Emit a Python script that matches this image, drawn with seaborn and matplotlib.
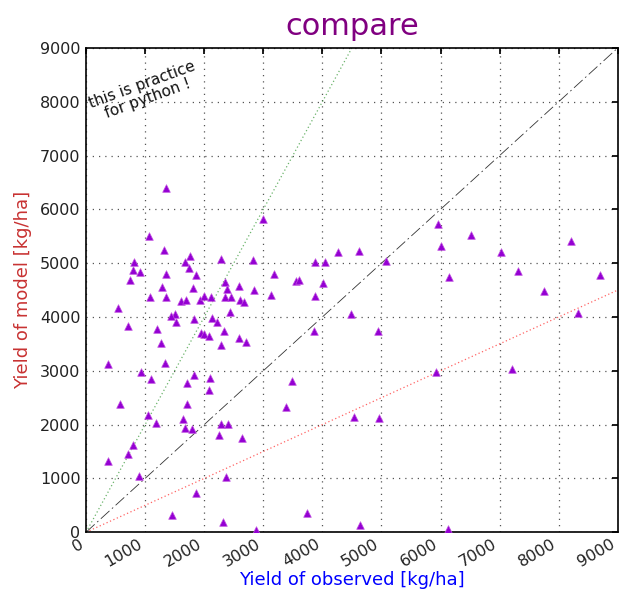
import matplotlib
matplotlib.use("Agg")
import matplotlib.pyplot as plt
import numpy as np
import pandas as pd
import seaborn as sns

# observed vs. modelled yields [kg/ha]
observed = [
    1350, 3000, 1060, 1315, 815, 1760, 1675, 2277, 2822, 798, 905, 1742, 3176,
    1349, 1860, 742, 2356, 2592, 1282, 2389, 2838, 1810, 1085, 1360, 1613, 1692,
    1928, 2001, 2113, 2356, 2462, 3131, 2614, 2670, 545, 2440, 1512, 1433, 1529,
    1821, 2125, 2215, 714, 1209, 2333, 1939, 1995, 2074, 2585, 2709, 1270, 2282,
    4261, 4615, 3867, 4042, 5081, 3560, 3610, 4013, 3867, 4491, 3856, 4935,
    5958, 6509, 6009, 7020, 8207, 6144, 7307, 8702, 7757, 8325, 5919, 7217,
    4531, 4953, 4637, 6121,
    2096, 2080, 3486, 3390, 2277, 2411, 2249, 2636, 2373, 3744, 2322, 2872,
    376, 1338, 933, 1096, 1827, 1715, 568, 1715, 1051, 1186, 1641, 1669, 1788,
    793, 708, 371, 894, 1867, 1462,
]
modelled = [
    6400, 5830, 5500, 5240, 5015, 5140, 5028, 5084, 5065, 4879, 4835, 4916, 4804,
    4804, 4785, 4686, 4641, 4579, 4561, 4517, 4505, 4530, 4380, 4380, 4305, 4318,
    4323, 4398, 4374, 4380, 4374, 4417, 4312, 4286, 4174, 4099, 4062, 4019, 3907,
    3963, 3981, 3907, 3826, 3770, 3733, 3701, 3676, 3639, 3613, 3538, 3508, 3477,
    5215, 5234, 5028, 5028, 5034, 4670, 4680, 4636, 4393, 4050, 3738, 3744,
    5720, 5527, 5314, 5215, 5415, 4741, 4847, 4785, 4492, 4069, 2972, 3041,
    2150, 2131, 131, 56,
    2873, 2649, 2817, 2323, 2013, 2006, 1808, 1757, 1034, 361, 187, 37,
    3134, 3153, 2972, 2854, 2922, 2766, 2374, 2374, 2187, 2032, 2107, 1938, 1920,
    1613, 1452, 1321, 1047, 729, 323,
]

# reference lines: 1:1, 2:1 and 1:2
ref_x = [0, 9000]
line_one = [0, 9000]
line_double_x = [0, 4500]
line_double_y = [0, 9000]
line_half = [0, 4500]

ticks = [0, 1000, 2000, 3000, 4000, 5000, 6000, 7000, 8000, 9000]

sns.set_theme(style="white")
plt.rcParams.update({
    "font.family": ["DejaVu Sans"],
    "xtick.direction": "in",
    "ytick.direction": "in",
    "xtick.top": True,
    "ytick.right": True,
    "xtick.major.size": 4,
    "ytick.major.size": 4,
    "xtick.major.pad": 3,
    "ytick.major.pad": 4,
    "xtick.color": "black",
    "ytick.color": "black",
    "axes.edgecolor": "black",
    "axes.linewidth": 1.2,
})

fig = plt.figure(figsize=(6.19, 5.92), dpi=100)
ax = fig.add_axes([0.139, 0.101, 0.859, 0.818])

df = pd.DataFrame({"observed": observed, "modelled": modelled})

sns.lineplot(x=line_double_x, y=line_double_y, ax=ax, color="#3a9a3a",
             linestyle=(0, (1, 2)), linewidth=0.9, alpha=0.75)
sns.lineplot(x=ref_x, y=line_one, ax=ax, color="black",
             linestyle=(0, (14, 4, 2, 4)), linewidth=0.6, alpha=0.8)
sns.lineplot(x=ref_x, y=line_half, ax=ax, color="#ff3030",
             linestyle=(0, (1, 2)), linewidth=0.9, alpha=0.75)

sns.scatterplot(data=df, x="observed", y="modelled", ax=ax, marker="^",
                s=30, color="#9400d3", edgecolor="#c050e0", linewidth=0.5,
                zorder=5)

ax.set_xlim(0, 9000)
ax.set_ylim(0, 9000)
ax.set_xticks(ticks)
ax.set_yticks(ticks)
ax.set_xticklabels([str(t) for t in ticks], rotation=30, ha="right",
                   fontsize=11.5, color="#222222")
ax.set_yticklabels([str(t) for t in ticks], fontsize=11.5, color="#222222")
ax.grid(True, linestyle=(0, (1, 4)), color="#555555", linewidth=0.9)

ax.set_xlabel("Yield of observed [kg/ha]", color="blue", fontsize=13,
              labelpad=1)
ax.set_ylabel("Yield of model [kg/ha]", color="#c83232", fontsize=13,
              labelpad=6)
ax.set_title("compare", color="purple", fontsize=22, pad=9)

ax.text(1000, 8190, "this is practice\nfor python !", rotation=20,
        ha="center", va="center", ma="center", fontsize=11, color="#111111",
        linespacing=1.0)

fig.savefig("out.png", dpi=100)
